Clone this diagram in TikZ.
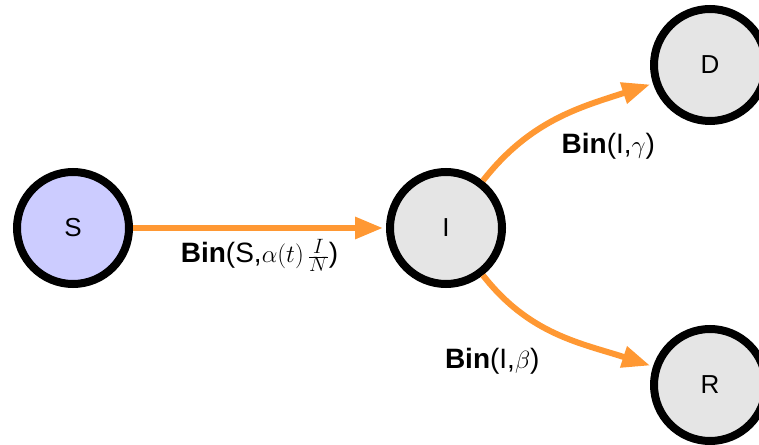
\documentclass[tikz,border=0pt]{standalone}
\usepackage{fontspec}
\setmainfont{Liberation Sans}
\usetikzlibrary{arrows.meta,positioning}
\definecolor{flowcol}{RGB}{255,152,51}
\definecolor{susc}{RGB}{204,204,255}
\definecolor{comp}{RGB}{229,229,229}

\begin{document}
\begin{tikzpicture}[
    x=1pt, y=1pt,
    node distance=253pt,
    state/.style={draw, circle, line width=8pt, minimum size=112pt, inner sep=0pt, fill=comp, font=\fontsize{26}{28}\selectfont},
    flow/.style={-{Triangle[length=28pt,width=21pt]}, line width=6pt, draw=flowcol, shorten >=3pt},
    rate/.style={font=\fontsize{28}{32}\selectfont, inner sep=2pt}
]
\useasboundingbox (0,0) rectangle (759,444);
\node[state, fill=susc] (S) at (73,216) {S};
\node[state, right=of S] (I) {I};
\node[state] (D) at (710,379) {D};
\node[state] (R) at (710,59) {R};
\draw[flow] (S) -- node[rate, below=6pt] {\textbf{Bin}(S,$\alpha(t)\,\frac{I}{N}$)} (I);
\draw[flow] (I) to[out=52, in=198] node[rate, pos=0.55, anchor=north west, xshift=-10pt, yshift=-14pt] {\textbf{Bin}(I,$\gamma$)} (D);
\draw[flow] (I) to[out=-52, in=162] node[rate, pos=0.5, anchor=north east, xshift=-14pt, yshift=-9pt] {\textbf{Bin}(I,$\beta$)} (R);
\end{tikzpicture}
\end{document}
